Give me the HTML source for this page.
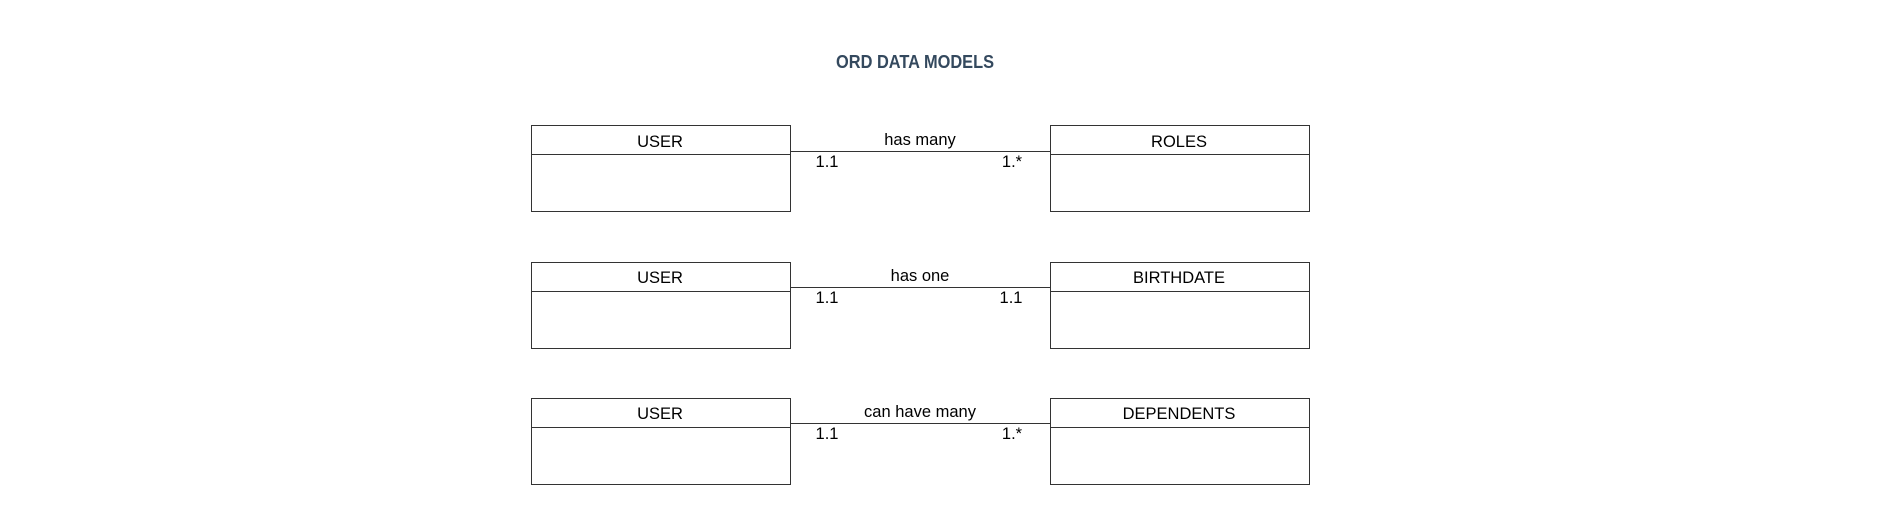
<!DOCTYPE html>
<html><head><style>body{margin:0;background:#fff}svg{display:block}</style></head><body>
<svg width="1893" height="510" xmlns="http://www.w3.org/2000/svg" font-family="Liberation Sans, DejaVu Sans, sans-serif">
<text x="915" y="68" text-anchor="middle" font-size="18" font-weight="bold" fill="#34495e" textLength="158" lengthAdjust="spacingAndGlyphs">ORD DATA MODELS</text>
<g fill="none" stroke="#333" stroke-width="1">
<rect x="531.5" y="125.5" width="259" height="86"/><line x1="531" y1="154.5" x2="790" y2="154.5"/>
<rect x="1050.5" y="125.5" width="259" height="86"/><line x1="1050" y1="154.5" x2="1309" y2="154.5"/>
<line x1="790" y1="151.5" x2="1050" y2="151.5"/>
<rect x="531.5" y="262.5" width="259" height="86"/><line x1="531" y1="291.5" x2="790" y2="291.5"/>
<rect x="1050.5" y="262.5" width="259" height="86"/><line x1="1050" y1="291.5" x2="1309" y2="291.5"/>
<line x1="790" y1="287.5" x2="1050" y2="287.5"/>
<rect x="531.5" y="398.5" width="259" height="86"/><line x1="531" y1="427.5" x2="790" y2="427.5"/>
<rect x="1050.5" y="398.5" width="259" height="86"/><line x1="1050" y1="427.5" x2="1309" y2="427.5"/>
<line x1="790" y1="423.5" x2="1050" y2="423.5"/>
</g>
<g font-size="16.5" fill="#000" text-anchor="middle">
<text x="660" y="147">USER</text><text x="1179" y="147">ROLES</text>
<text x="920" y="145">has many</text><text x="827" y="167">1.1</text><text x="1012" y="167">1.*</text>
<text x="660" y="283">USER</text><text x="1179" y="283">BIRTHDATE</text>
<text x="920" y="281">has one</text><text x="827" y="303">1.1</text><text x="1011" y="303">1.1</text>
<text x="660" y="419">USER</text><text x="1179" y="419">DEPENDENTS</text>
<text x="920" y="417">can have many</text><text x="827" y="439">1.1</text><text x="1012" y="439">1.*</text>
</g>
</svg>
</body></html>
